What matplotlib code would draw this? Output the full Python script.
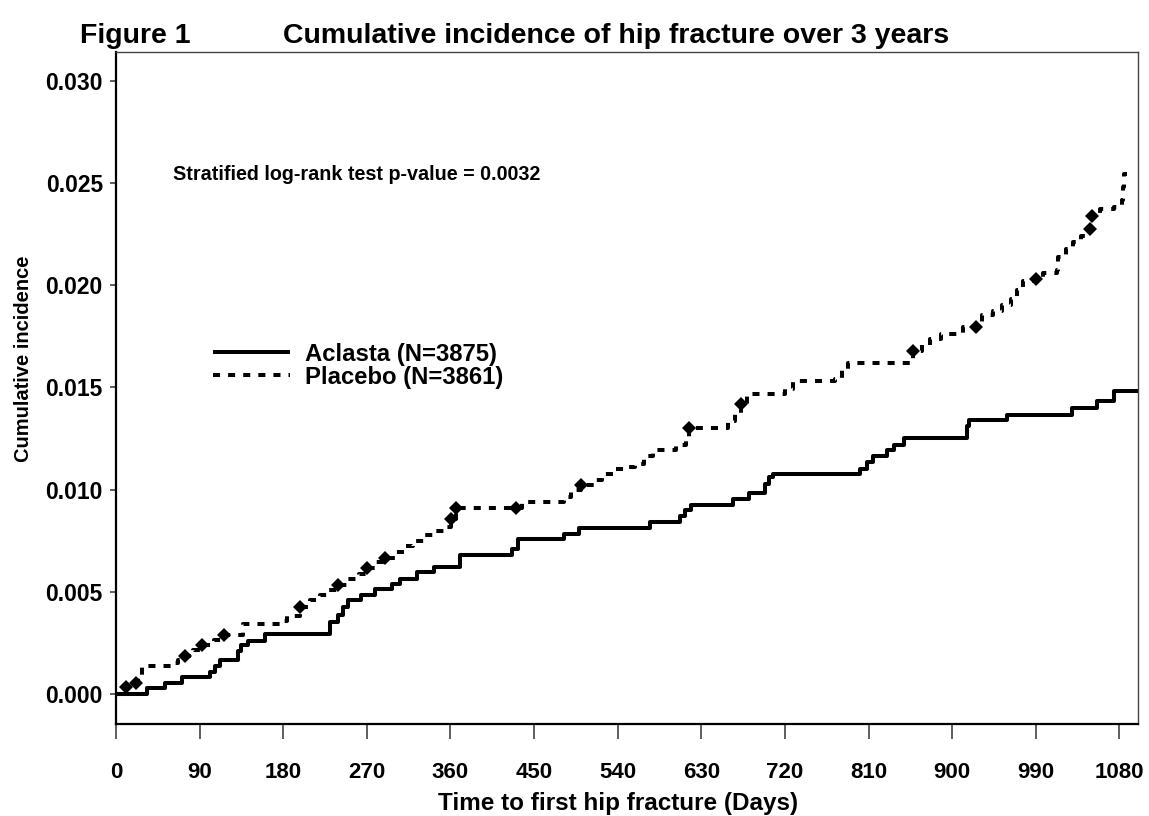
import matplotlib
matplotlib.use('Agg')
import matplotlib.pyplot as plt

plt.rcParams['font.family'] = ['Liberation Sans', 'DejaVu Sans']
plt.rcParams['font.weight'] = 'bold'
plt.rcParams['axes.labelweight'] = 'bold'

# step curves (day, cumulative incidence after the step)
aclasta_days = [0, 33, 53, 71, 101, 107, 112, 131, 135, 142, 160, 230, 239, 244, 250,
                264, 279, 297, 306, 324, 342, 370, 426, 433, 482, 498, 575, 607,
                612, 619, 664, 681, 699, 703, 707, 801, 808, 815, 830, 837, 848,
                916, 918, 959, 1029, 1056, 1074, 1100]
aclasta_vals = [0.0, 0.00033, 0.00057, 0.00085, 0.00109, 0.00137, 0.00166, 0.0021,
                0.0024, 0.0026, 0.00297, 0.00353, 0.0039, 0.00427, 0.00459, 0.00484,
                0.00517, 0.00541, 0.00566, 0.00598, 0.00622, 0.00679, 0.00712,
                0.00761, 0.00786, 0.00815, 0.00842, 0.0087, 0.009, 0.00927, 0.00957,
                0.00984, 0.0103, 0.01062, 0.01075, 0.01103, 0.01136, 0.01163,
                0.01193, 0.01217, 0.01255, 0.0131, 0.0134, 0.01367, 0.014, 0.01434,
                0.01483, 0.01483]

placebo_days = [0, 11, 21, 24, 28, 62, 67, 74, 83, 93, 105, 116, 137, 176, 184, 198,
                209, 220, 229, 239, 250, 261, 270, 280, 290, 301, 311, 320, 331, 342,
                354, 361, 366, 437, 482, 490, 501, 514, 523, 535, 548, 559, 568, 578,
                603, 613, 617, 659, 666, 673, 679, 720, 729, 774, 781, 788, 858, 867,
                876, 888, 912, 932, 944, 954, 963, 970, 976, 990, 998, 1013, 1014,
                1023, 1030, 1039, 1048, 1050, 1059, 1074, 1083, 1084, 1085, 1088]
placebo_vals = [0.0, 0.00036, 0.00055, 0.0009, 0.00138, 0.00152, 0.00166, 0.00187,
                0.00215, 0.0024, 0.00267, 0.00292, 0.00345, 0.0036, 0.00385, 0.00427,
                0.00459, 0.00484, 0.00508, 0.00533, 0.00566, 0.0059, 0.00619, 0.00645,
                0.00668, 0.00698, 0.00725, 0.00752, 0.00777, 0.008, 0.00818, 0.00859,
                0.00912, 0.0094, 0.00964, 0.00997, 0.01025, 0.01046, 0.01079, 0.01103,
                0.01111, 0.01128, 0.01163, 0.01193, 0.0122, 0.0125, 0.01303, 0.01334,
                0.01372, 0.01418, 0.0147, 0.01494, 0.0153, 0.01543, 0.01587, 0.0162,
                0.01678, 0.01709, 0.01739, 0.01763, 0.01795, 0.01856, 0.01872,
                0.01901, 0.01934, 0.01975, 0.02019, 0.02032, 0.02061, 0.02072,
                0.02137, 0.02175, 0.02211, 0.02239, 0.02273, 0.02338, 0.02374,
                0.02382, 0.02418, 0.0248, 0.02545, 0.02545]

# diamond marks drawn on the placebo curve
placebo_mark_days = [11, 21, 74, 93, 116, 198, 239, 270, 290, 361, 366, 431, 501, 617,
                     673, 858, 926, 990, 1048, 1050]
placebo_mark_vals = [0.00036, 0.00055, 0.00187, 0.0024, 0.00292, 0.00427, 0.00533,
                     0.00619, 0.00668, 0.00859, 0.00912, 0.00912, 0.01025, 0.01303,
                     0.01418, 0.01678, 0.01795, 0.02032, 0.02273, 0.02338]

x_ticks = [0, 90, 180, 270, 360, 450, 540, 630, 720, 810, 900, 990, 1080]
y_ticks = [0.000, 0.005, 0.010, 0.015, 0.020, 0.025, 0.030]

fig = plt.figure(figsize=(11.49, 8.16), dpi=100)
ax = fig.add_axes([0.101, 0.1127, 0.8894, 0.8236])

ax.step(aclasta_days, aclasta_vals, where='post', color='black', lw=2.9,
        solid_capstyle='butt', label='Aclasta (N=3875)')
ax.step(placebo_days, placebo_vals, where='post', color='black', lw=2.9,
        linestyle=(0, (1.75, 2.0)), dash_capstyle='butt', label='Placebo (N=3861)')
ax.plot(placebo_mark_days, placebo_mark_vals, 'D', color='black', ms=7.5, mew=0)

ax.set_xlim(0, 1100)
ax.set_ylim(-0.00145, 0.0314)
ax.set_xticks(x_ticks)
ax.set_yticks(y_ticks)
ax.set_yticklabels(['%.3f' % v for v in y_ticks])

ax.tick_params(axis='x', direction='out', length=11, width=1.1, color='#333333',
               pad=16, labelsize=16)
ax.tick_params(axis='y', direction='out', length=4.5, width=1.1, color='#333333',
               pad=5, labelsize=16.5)

for side in ['left', 'bottom']:
    ax.spines[side].set_linewidth(1.6)
for side in ['top', 'right']:
    ax.spines[side].set_linewidth(1.0)
    ax.spines[side].set_color('#444444')

ax.set_xlabel('Time to first hip fracture (Days)', fontsize=17.5, fontweight='bold')
ax.xaxis.set_label_coords(0.491, -0.101)
ax.set_ylabel('Cumulative incidence', fontsize=14.5, fontweight='bold', va='center')
ax.yaxis.set_label_coords(-0.091, 0.543)

ax.text(61, 0.0254, 'Stratified log-rank test p-value = 0.0032', fontsize=14.2,
        va='center', ha='left')

leg = ax.legend(loc='upper left', bbox_to_anchor=(0.095, 0.5675), frameon=False,
                fontsize=17.2, handlelength=3.22, handletextpad=0.63,
                labelspacing=0.0, borderaxespad=0, borderpad=0)

fig.text(80 / 1149, 1 - 43 / 816, 'Figure 1', fontsize=20.5, va='baseline')
fig.text(283 / 1149, 1 - 43 / 816, 'Cumulative incidence of hip fracture over 3 years',
         fontsize=20.5, va='baseline')

fig.savefig('out.png', dpi=100)
